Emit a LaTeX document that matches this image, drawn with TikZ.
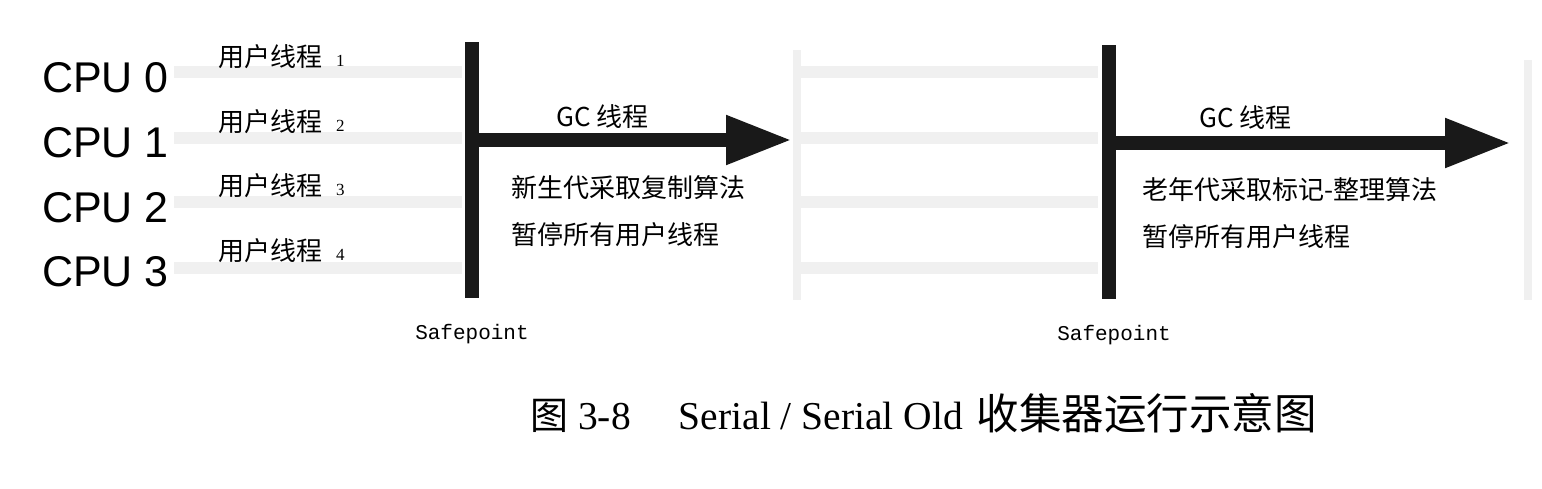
\documentclass[tikz,border=0pt]{standalone}
\usepackage{fontspec}
\setmainfont{Liberation Serif}
\newfontfamily\cjk{Noto Sans CJK SC}
\newfontfamily\cpufont{Liberation Sans}
\newfontfamily\monofont{Liberation Mono}
\usetikzlibrary{arrows.meta}
\tikzset{
  bar/.style={line width=14pt, black!90},
  gcarrow/.style={line width=14pt, black!90, -{Triangle[length=66pt,width=46pt]}},
  faint/.style={line width=12pt, black!6, line cap=butt},
  cpu/.style={anchor=west, inner sep=0pt, font=\cpufont\fontsize{43}{46}\selectfont},
  ut/.style={anchor=west, inner sep=0pt, font=\cjk\fontsize{26}{28}\selectfont},
  txt/.style={anchor=west, inner sep=0pt, font=\cjk\fontsize{26}{28}\selectfont},
  sp/.style={inner sep=0pt, font=\monofont\fontsize{21}{24}\selectfont},
}
\newcommand{\unum}[1]{\hspace{14pt}{\rmfamily\fontsize{17}{18}\selectfont #1}}
\begin{document}
\begin{tikzpicture}[x=1pt,y=-1pt]
\useasboundingbox[fill=white] (0,0) rectangle (1542,488);
% faint user-thread bands
\foreach \yy in {72,138,202,268} {
  \draw[faint] (174,\yy) -- (462,\yy);
  \draw[faint] (800,\yy) -- (1098,\yy);
}
\draw[faint, line width=8pt] (797,50) -- (797,300);
\draw[faint, line width=8pt] (1528,60) -- (1528,300);

% CPU labels
\node[cpu] (c0) at (42,78) {CPU 0};
\node[cpu] (c1) at (42,143) {CPU 1};
\node[cpu] (c2) at (42,208) {CPU 2};
\node[cpu] (c3) at (42,272) {CPU 3};
% user threads
\node[ut] (u1) at (218,57) {用户线程\unum{1}};
\node[ut] (u2) at (218,122) {用户线程\unum{2}};
\node[ut] (u3) at (218,186) {用户线程\unum{3}};
\node[ut] (u4) at (218,251) {用户线程\unum{4}};

% first safepoint
\coordinate (b1t) at (472,42);
\coordinate (b1b) at (472,298);
\coordinate (b1m) at (465,140);
\coordinate (a1e) at (792,140);
\draw[bar] (b1t) -- (b1b);
\draw[gcarrow] (b1m) -- (a1e);
\node[txt] (g1) at (556,117) {GC 线程};
\node[txt] (n1) at (511,188) {新生代采取复制算法};
\node[txt] (p1) at (511,235) {暂停所有用户线程};
\node[sp] (s1) at (472,334) {Safepoint};

% second safepoint
\coordinate (b2t) at (1109,45);
\coordinate (b2b) at (1109,299);
\coordinate (b2m) at (1102,143);
\coordinate (a2e) at (1511,143);
\draw[bar] (b2t) -- (b2b);
\draw[gcarrow] (b2m) -- (a2e);
\node[txt] (g2) at (1199,118) {GC 线程};
\node[txt] (n2) at (1142,190) {老年代采取标记-整理算法};
\node[txt] (p2) at (1142,237) {暂停所有用户线程};
\node[sp] (s2) at (1114,335) {Safepoint};

% caption
\node[anchor=west, inner sep=0pt, font=\fontsize{39.5}{42}\selectfont] (cap) at (530,413)
  {{\cjk\fontsize{38}{42}\selectfont 图}\hspace{10pt}3-8\hspace{48pt}Serial / Serial Old\hspace{14pt}{\cjk\fontsize{42.5}{44}\selectfont 收集器运行示意图}};
\end{tikzpicture}
\end{document}
